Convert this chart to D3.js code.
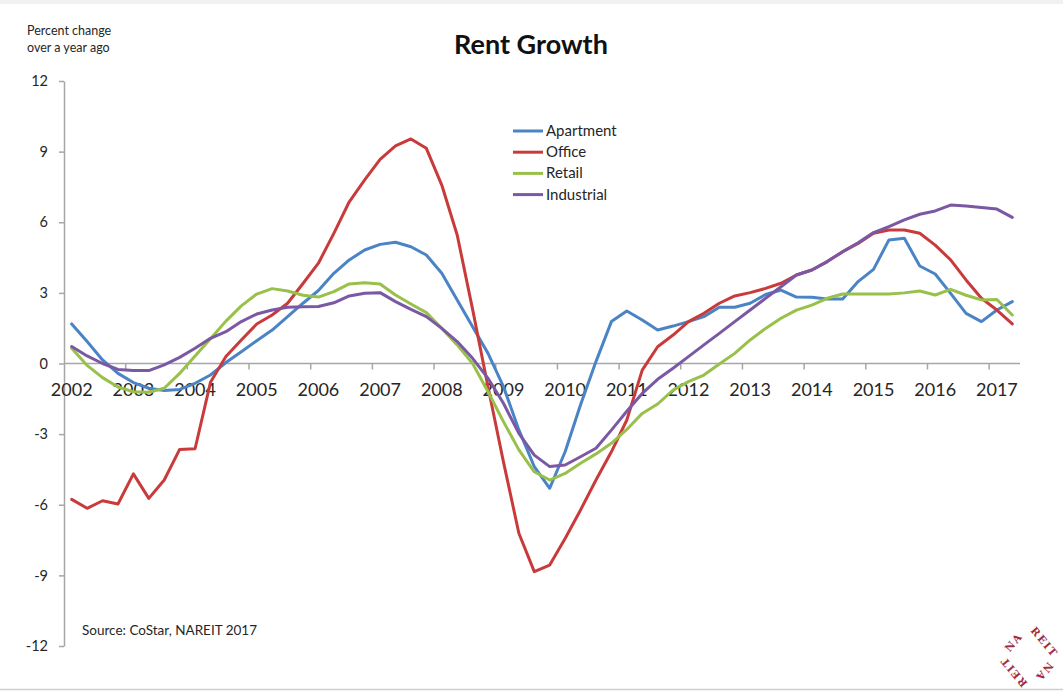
<!DOCTYPE html>
<html><head><meta charset="utf-8">
<script src="https://cdn.jsdelivr.net/npm/d3@7"></script>
<style>
body{margin:0;background:#fff;}
svg{display:block;font-family:Lato,"Open Sans",sans-serif;}
</style>
</head><body>
<svg id="chart" width="1063" height="693"></svg>
<script>
// ---- DATA ----
const categories = [
"2002Q1","2002Q2","2002Q3","2002Q4","2003Q1","2003Q2","2003Q3","2003Q4",
"2004Q1","2004Q2","2004Q3","2004Q4","2005Q1","2005Q2","2005Q3","2005Q4",
"2006Q1","2006Q2","2006Q3","2006Q4","2007Q1","2007Q2","2007Q3","2007Q4",
"2008Q1","2008Q2","2008Q3","2008Q4","2009Q1","2009Q2","2009Q3","2009Q4",
"2010Q1","2010Q2","2010Q3","2010Q4","2011Q1","2011Q2","2011Q3","2011Q4",
"2012Q1","2012Q2","2012Q3","2012Q4","2013Q1","2013Q2","2013Q3","2013Q4",
"2014Q1","2014Q2","2014Q3","2014Q4","2015Q1","2015Q2","2015Q3","2015Q4",
"2016Q1","2016Q2","2016Q3","2016Q4","2017Q1","2017Q2"];

const xTickLabels = ["2002","2003","2004","2005","2006","2007","2008","2009",
"2010","2011","2012","2013","2014","2015","2016","2017"];
const yTickValues = [12,9,6,3,0,-3,-6,-9,-12];

const seriesNames = ["Apartment","Office","Retail","Industrial"];

const apartment = [
1.68,0.93,0.15,-0.42,-0.81,-1.05,-1.15,-1.10,-0.84,-0.49,
0.04,0.50,0.97,1.42,1.99,2.56,3.10,3.83,4.40,4.82,
5.06,5.15,4.96,4.61,3.83,2.70,1.56,0.43,-0.98,-2.82,
-4.38,-5.30,-3.75,-1.75,0.08,1.78,2.23,1.85,1.42,1.59,
1.78,1.99,2.39,2.39,2.56,2.93,3.12,2.82,2.81,2.74,
2.74,3.48,4.00,5.25,5.32,4.14,3.80,2.98,2.13,1.78,
2.27,2.63];

const office = [
-5.77,-6.15,-5.83,-5.97,-4.69,-5.73,-4.95,-3.65,-3.62,-0.80,
0.30,1.00,1.68,2.06,2.56,3.40,4.26,5.53,6.87,7.80,
8.67,9.24,9.54,9.14,7.58,5.46,2.30,-1.00,-4.18,-7.21,
-8.84,-8.56,-7.43,-6.22,-4.95,-3.75,-2.40,-0.28,0.71,1.21,
1.78,2.13,2.56,2.87,3.01,3.19,3.41,3.76,3.97,4.33,
4.75,5.10,5.53,5.67,5.67,5.53,5.03,4.40,3.55,2.77,
2.27,1.68];

const retail = [
0.65,-0.08,-0.60,-1.00,-1.20,-1.22,-1.05,-0.42,0.32,1.05,
1.80,2.45,2.95,3.18,3.08,2.90,2.82,3.05,3.38,3.43,
3.38,2.91,2.53,2.16,1.49,0.79,0.00,-1.20,-2.47,-3.67,
-4.60,-4.95,-4.67,-4.24,-3.84,-3.39,-2.80,-2.12,-1.72,-1.13,
-0.77,-0.49,-0.02,0.43,1.00,1.49,1.92,2.27,2.48,2.77,
2.95,2.95,2.95,2.95,3.00,3.08,2.91,3.15,2.90,2.70,
2.72,2.06];

const industrial = [
0.72,0.32,0.00,-0.25,-0.30,-0.30,-0.06,0.26,0.65,1.07,
1.35,1.78,2.10,2.27,2.39,2.41,2.42,2.58,2.87,2.98,
3.01,2.63,2.30,1.99,1.49,0.93,0.22,-0.63,-1.69,-2.97,
-3.89,-4.38,-4.31,-3.96,-3.60,-2.83,-2.03,-1.27,-0.67,-0.20,
0.29,0.79,1.28,1.78,2.27,2.77,3.26,3.76,3.97,4.33,
4.75,5.13,5.56,5.81,6.10,6.34,6.48,6.73,6.69,6.63,
6.56,6.21];

const seriesColors = ["#4a84c4","#c93b3b","#98c04a","#7b58a4"];

// ---- CHART ----
const svg = d3.select("#chart");
const plotLeft = 64, plotRight = 1020, plotTop = 81, plotBottom = 646;

const x = d3.scaleBand().domain(categories).range([plotLeft, plotRight]).padding(0);
const y = d3.scaleLinear().domain([-12, 12]).range([plotBottom, plotTop]);
const bw = x.bandwidth();

// top faint band and bottom frame line
svg.append("rect").attr("x",0).attr("y",0).attr("width",1063).attr("height",4).attr("fill","#f1f1f4");
svg.append("line").attr("x1",0).attr("x2",1063).attr("y1",689.5).attr("y2",689.5)
  .attr("stroke","#cfcfcf").attr("stroke-width",1.5);

// Y axis
const yAxis = svg.append("g").attr("transform",`translate(${plotLeft},0)`)
  .call(d3.axisLeft(y).tickValues(yTickValues).tickSize(5).tickSizeOuter(0).tickPadding(11)
        .tickFormat(d => String(d)));
yAxis.select(".domain").attr("stroke","#a6a6a6").attr("stroke-width",1.5);
yAxis.selectAll(".tick line").attr("stroke","#a6a6a6").attr("stroke-width",1.5);
yAxis.selectAll(".tick text").attr("fill","#262626").style("font-size","14.5px")
  .style("font-family","Lato, sans-serif");

// X axis at zero
const y0 = y(0);
const labelCats = categories.filter(c => c.endsWith("Q1"));
svg.append("line").attr("x1",plotLeft).attr("x2",plotRight).attr("y1",y0).attr("y2",y0)
  .attr("stroke","#a6a6a6").attr("stroke-width",1.5);
svg.append("g").selectAll("line").data(labelCats.slice(1)).join("line")
  .attr("x1",d=>x(d)).attr("x2",d=>x(d)).attr("y1",y0).attr("y2",y0+6)
  .attr("stroke","#a6a6a6").attr("stroke-width",1.5);
const xAxis = svg.append("g").attr("transform",`translate(0,${y0})`)
  .call(d3.axisBottom(x).tickValues(labelCats).tickSize(0).tickPadding(20)
        .tickFormat((d,i) => xTickLabels[i]));
xAxis.select(".domain").remove();
xAxis.selectAll(".tick text").attr("fill","#262626").style("font-size","18px")
  .style("font-family","Lato, sans-serif");

// Lines
const seriesData = [apartment, office, retail, industrial];
const line = d3.line()
  .x((d,i) => x(categories[i]) + bw/2)
  .y(d => y(d));
svg.append("g").selectAll("path").data(seriesData).join("path")
  .attr("d", line)
  .attr("fill","none")
  .attr("stroke",(d,i)=>seriesColors[i])
  .attr("stroke-width",3)
  .attr("stroke-linejoin","round")
  .attr("stroke-linecap","round");

// Legend
const lg = svg.append("g").attr("transform","translate(513,131)");
seriesNames.forEach((n,i) => {
  const g = lg.append("g").attr("transform",`translate(0,${i*21.2})`);
  g.append("line").attr("x1",0).attr("x2",30).attr("y1",0).attr("y2",0)
    .attr("stroke",seriesColors[i]).attr("stroke-width",3);
  g.append("text").attr("x",33).attr("y",5).text(n)
    .attr("fill","#262626").style("font-size","15px");
});

// Title & labels
svg.append("text").attr("x",531).attr("y",54).attr("text-anchor","middle")
  .style("font-size","27px").style("font-weight","bold").attr("fill","#111").text("Rent Growth");
svg.append("text").attr("x",27).attr("y",35).style("font-size","12.5px").attr("fill","#262626").text("Percent change");
svg.append("text").attr("x",27).attr("y",52).style("font-size","12.5px").attr("fill","#262626").text("over a year ago");
svg.append("text").attr("x",82).attr("y",635).style("font-size","13.5px").attr("fill","#262626").text("Source: CoStar, NAREIT 2017");

// NAREIT logo
const logo = svg.append("g").attr("transform","translate(1029,657)")
  .style("font-family","'DejaVu Serif', serif").style("font-weight","bold")
  .style("font-size","10.5px").attr("fill","#9e2d43");
[["REIT",50,13,-13],["REIT",230,-13,13],["NA",-50,-13,-13],["NA",130,13,13]].forEach(([t,r,dx,dy])=>{
  logo.append("text").attr("text-anchor","middle").attr("dy","0.35em")
    .attr("transform",`translate(${dx},${dy}) rotate(${r}) translate(0,-3)`)
    .style("letter-spacing","1.5px").text(t);
});
</script>
</body></html>
